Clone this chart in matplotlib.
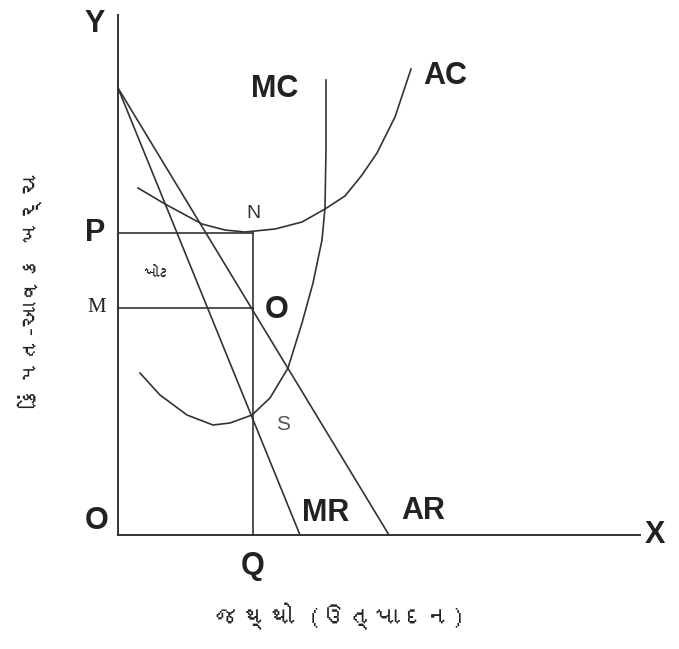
import matplotlib
matplotlib.use('Agg')
import matplotlib.pyplot as plt
from matplotlib import font_manager

# Output quantity (x) and price/cost (y), origin at O
ac_q = [20, 47, 84, 107, 127, 157, 184, 207, 227, 244, 259, 277, 293]
ac_c = [347, 331, 311, 305, 303, 306, 313, 326, 339, 360, 382, 418, 466]

mc_q = [22, 42, 69, 95, 112, 134, 152, 170, 184, 195, 204, 207, 208, 208]
mc_c = [162, 140, 120, 110, 112, 120, 137, 167, 212, 252, 295, 327, 385, 455]

ar_q = [0, 271]
ar_p = [447, 0]
mr_q = [0, 182]
mr_p = [447, 0]

q_eq = 135      # Q
p_level = 302   # P (AC at Q)
m_level = 227   # M (AR at Q)
x_end = 522
y_end = 520

x_label = 'જથ્થો (ઉત્પાદન)'
y_label = 'કિંમત-આવક ખર્ચ'
loss_label = 'ખોટ'


def find_gujarati_font():
    try:
        from fontTools.ttLib import TTFont
    except ImportError:
        return None
    for f in font_manager.fontManager.ttflist:
        try:
            tt = TTFont(f.fname, fontNumber=0, lazy=True)
            cmap = tt.getBestCmap()
            if cmap and 0x0A9C in cmap and 0x0AA5 in cmap:
                return f.name
        except Exception:
            continue
    return None


guj = find_gujarati_font()
guj_family = [guj, 'DejaVu Sans'] if guj else ['DejaVu Sans']

fig = plt.figure(figsize=(6.79, 6.49), dpi=100)
ax = fig.add_axes([0, 0, 1, 1])
ax.set_xlim(-118, 561)
ax.set_ylim(-114, 535)
ax.axis('off')

lc = '#333333'
lw = 1.2

# axes
ax.plot([0, x_end], [0, 0], color=lc, lw=1.4)
ax.plot([0, 0], [0, y_end], color=lc, lw=1.4)

# demand and marginal revenue
ax.plot(ar_q, ar_p, color=lc, lw=lw)
ax.plot(mr_q, mr_p, color=lc, lw=lw)

# cost curves
ax.plot(ac_q, ac_c, color=lc, lw=lw, solid_joinstyle='round')
ax.plot(mc_q, mc_c, color=lc, lw=lw, solid_joinstyle='round')

# guide lines
ax.plot([q_eq, q_eq], [0, p_level], color=lc, lw=lw)
ax.plot([0, q_eq], [p_level, p_level], color=lc, lw=lw)
ax.plot([0, q_eq], [m_level, m_level], color=lc, lw=lw)

bold = dict(fontfamily='Liberation Sans', fontweight='bold', fontsize=22, color='#222222')
ax.text(-23, 511, 'Y', ha='center', va='center', **bold)
ax.text(537, 0, 'X', ha='center', va='center', **bold)
ax.text(-21, 14, 'O', ha='center', va='center', **bold)
ax.text(-23, p_level, 'P', ha='center', va='center', **bold)
ax.text(q_eq, -31, 'Q', ha='center', va='center', **bold)
ax.text(159, 225, 'O', ha='center', va='center', **bold)
ax.text(157, 446, 'MC', ha='center', va='center', **bold)
ax.text(327, 459, 'AC', ha='center', va='center', **bold)
ax.text(208, 22, 'MR', ha='center', va='center', **bold)
ax.text(305, 24, 'AR', ha='center', va='center', **bold)

ax.text(135, 322, 'N', ha='center', va='center', fontfamily='Liberation Sans',
        fontsize=14, color='#333333')
ax.text(165, 110, 'S', ha='center', va='center', fontfamily='Liberation Sans',
        fontsize=15, color='#555555')
ax.text(-21, m_level, 'M', ha='center', va='center', fontfamily='Liberation Serif',
        fontsize=15, color='#222222')

ax.text(42, 260, loss_label, ha='center', va='center', family=guj_family,
        fontsize=12, color='#222222')
ax.text(222, -81, x_label, ha='center', va='center', family=guj_family,
        fontsize=19, color='#222222')
ax.text(-88, 245, y_label, ha='center', va='center', rotation=90,
        family=guj_family, fontsize=17, color='#222222')

fig.savefig('out.png', dpi=100)
